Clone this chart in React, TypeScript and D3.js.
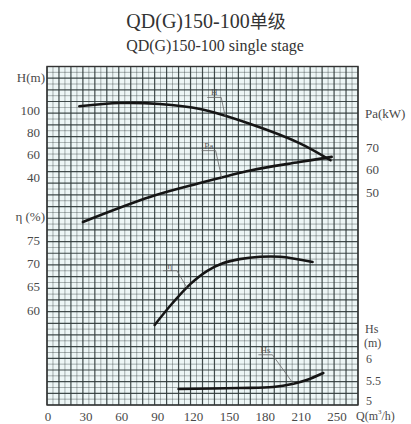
import React from 'react';
import * as d3 from 'd3';

// chart data
const qTicks = [0, 30, 60, 90, 120, 150, 180, 210, 240];
const qTickLabels = ['0', '30', '60', '90', '120', '150', '180', '210', '250'];
const headTicks = [40, 60, 80, 100];
const effTicks = [60, 65, 70, 75];
const powerTicks = [50, 60, 70];
const npshTicks = [5, 5.5, 6];

const headQ = [27, 61, 94, 128, 170, 211, 237];
const headVals = [103.4, 106.3, 105.4, 100.9, 87.5, 70.4, 55];

const powerQ = [30, 86, 128, 170, 211, 238];
const powerVals = [36.7, 47.8, 54, 59.6, 63.3, 65.6];

const effQ = [90, 105, 120, 134, 147, 161, 178, 195, 222];
const effVals = [56.8, 61.5, 65.6, 68.4, 70.0, 70.9, 71.4, 71.4, 70.3];

const npshQ = [110, 161, 189, 206, 217, 231];
const npshVals = [5.32, 5.34, 5.36, 5.43, 5.51, 5.66];

const W = 411;
const H = 424;
const plot = { left: 47, right: 358, top: 66.5, bottom: 405 };

const serif = "'Liberation Serif', 'DejaVu Serif', serif";
const cjk = "'Noto Sans CJK SC', sans-serif";
const textColor = '#4a4a4a';

export default function App() {
  const x = d3.scaleLinear().domain([0, 260]).range([plot.left, plot.right]);
  const yHead = d3.scaleLinear().domain([40, 100]).range([177, 110]);
  const yPower = d3.scaleLinear().domain([50, 70]).range([192, 147]);
  const yEff = d3.scaleLinear().domain([60, 75]).range([310, 240]);
  const yNpsh = d3.scaleLinear().domain([5, 6]).range([404, 357]);
  const yGrid = d3.scaleLinear().domain([0, 58]).range([plot.bottom, plot.top]);

  const makeLine = (ys: d3.ScaleLinear<number, number>) =>
    d3
      .line<[number, number]>()
      .x((d) => x(d[0]))
      .y((d) => ys(d[1]))
      .curve(d3.curveCatmullRom.alpha(0.5));

  const curves = [
    { name: 'H', qs: headQ, vs: headVals, scale: yHead, at: 149, tx: -12, ty: -19 },
    { name: 'Pa', qs: powerQ, vs: powerVals, scale: yPower, at: 146, tx: -14, ty: -27 },
    { name: 'η', qs: effQ, vs: effVals, scale: yEff, at: 117, tx: -18, ty: -17 },
    { name: 'Hs', qs: npshQ, vs: npshVals, scale: yNpsh, at: 206, tx: -29, ty: -29 },
  ];

  const interp = (qs: number[], vs: number[], q: number) => {
    const i = Math.max(1, d3.bisectLeft(qs, q));
    const t = (q - qs[i - 1]) / (qs[i] - qs[i - 1]);
    return vs[i - 1] + t * (vs[i] - vs[i - 1]);
  };

  const vLines = d3.range(0, 261, 5);
  const hLines = d3.range(0, 59, 1);

  const label = { fontFamily: serif, fontSize: 13, fill: textColor };
  const small = { fontFamily: serif, fontSize: 12, fill: textColor };

  return (
    <svg
      width={W}
      height={H}
      style={{ position: 'absolute', left: 0, top: 0, background: '#fff' }}
    >
      <text x={206} y={28} textAnchor="middle" style={{ fontFamily: serif, fontSize: 20, fill: '#333' }}>
        QD(G)150-100<tspan style={{ fontFamily: cjk, fontSize: 18 }}>单级</tspan>
      </text>
      <text x={215} y={51} textAnchor="middle" style={{ fontFamily: serif, fontSize: 16, fill: '#333' }}>
        QD(G)150-100 single stage
      </text>

      <rect
        x={plot.left}
        y={plot.top}
        width={plot.right - plot.left}
        height={plot.bottom - plot.top}
        fill="#edf6f6"
      />
      {vLines.map((q) => (
        <line
          key={'v' + q}
          x1={x(q)}
          x2={x(q)}
          y1={plot.top}
          y2={plot.bottom}
          stroke="#2e3838"
          strokeWidth={q % 10 === 0 ? 1.2 : 0.7}
          opacity={q % 10 === 0 ? 0.9 : 0.55}
        />
      ))}
      {hLines.map((g) => (
        <line
          key={'h' + g}
          x1={plot.left}
          x2={plot.right}
          y1={yGrid(g)}
          y2={yGrid(g)}
          stroke="#2e3838"
          strokeWidth={g % 2 === 0 ? 1.2 : 0.7}
          opacity={g % 2 === 0 ? 0.9 : 0.55}
        />
      ))}
      <rect
        x={plot.left}
        y={plot.top}
        width={plot.right - plot.left}
        height={plot.bottom - plot.top}
        fill="none"
        stroke="#333"
        strokeWidth={1.4}
      />

      {curves.map((c) => {
        const pts = c.qs.map((q, i) => [q, c.vs[i]] as [number, number]);
        const px = x(c.at);
        const py = c.scale(interp(c.qs, c.vs, c.at));
        const ux = px + c.tx + 8;
        const uy = py + c.ty;
        return (
          <g key={c.name}>
            <path d={makeLine(c.scale)(pts) || ''} fill="none" stroke="#151515" strokeWidth={2.6} strokeLinecap="round" />
            <line x1={ux - 14} x2={ux} y1={uy} y2={uy} stroke="#666" strokeWidth={0.8} />
            <line x1={ux} x2={px} y1={uy} y2={py} stroke="#666" strokeWidth={0.8} />
            <text x={ux - 7} y={uy - 2} textAnchor="middle" style={{ fontFamily: serif, fontSize: 9, fill: '#555' }}>
              {c.name}
            </text>
          </g>
        );
      })}

      {/* left axis labels */}
      <text x={45} y={77} textAnchor="end" dominantBaseline="central" style={label}>
        H(m)
      </text>
      {headTicks.map((v) => (
        <text key={'h' + v} x={40} y={yHead(v)} textAnchor="end" dominantBaseline="central" style={label}>
          {v}
        </text>
      ))}
      <text x={45} y={216} textAnchor="end" dominantBaseline="central" style={label}>
        η (%)
      </text>
      {effTicks.map((v) => (
        <text key={'e' + v} x={40} y={yEff(v)} textAnchor="end" dominantBaseline="central" style={label}>
          {v}
        </text>
      ))}

      {/* right axis labels */}
      <text x={365} y={113} dominantBaseline="central" style={label}>
        Pa(kW)
      </text>
      {powerTicks.map((v) => (
        <text key={'p' + v} x={366} y={yPower(v)} dominantBaseline="central" style={label}>
          {v}
        </text>
      ))}
      <text x={365} y={329} dominantBaseline="central" style={small}>
        Hs
      </text>
      <text x={364} y={343} dominantBaseline="central" style={small}>
        (m)
      </text>
      {npshTicks.map((v) => (
        <text key={'n' + v} x={366} y={yNpsh(v) + (v === 6 ? 2 : v === 5 ? -3 : 0)} dominantBaseline="central" style={small}>
          {v}
        </text>
      ))}

      {/* bottom axis labels */}
      {qTicks.map((q, i) => (
        <text key={'q' + q} x={x(q) + (q === 0 ? 1 : 3)} y={416} textAnchor="middle" dominantBaseline="central" style={label}>
          {qTickLabels[i]}
        </text>
      ))}
      <text x={356} y={416} dominantBaseline="central" style={small}>
        Q(m
        <tspan style={{ fontSize: 7 }} dy={-4}>3</tspan>
        <tspan dy={4}>/h)</tspan>
      </text>
    </svg>
  );
}
